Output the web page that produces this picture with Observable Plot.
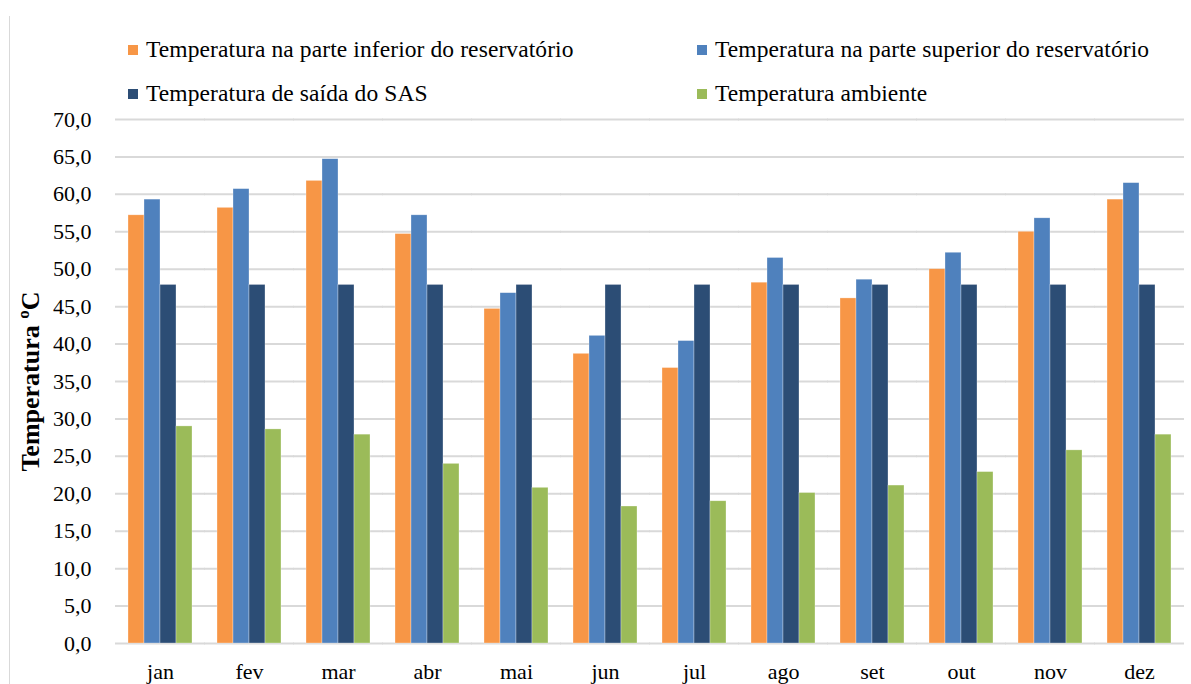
<!DOCTYPE html>
<html>
<head>
<meta charset="utf-8">
<script src="https://cdn.jsdelivr.net/npm/d3@7"></script>
<script src="https://cdn.jsdelivr.net/npm/@observablehq/plot@0.6"></script>
<style>
  html, body { margin: 0; padding: 0; background: #fff; }
  #wrap { position: relative; width: 1191px; height: 684px; font-family: "Liberation Serif", "Times New Roman", serif; color: #000; }
  #border { position: absolute; left: 9px; top: 16px; width: 1px; height: 668px; background: #d9d9d9; z-index: 2; }
  #legend { position: relative; height: 105px; }
  .item { position: absolute; display: flex; align-items: center; font-size: 23.5px; white-space: nowrap; letter-spacing: 0.1px; }
  .sw { width: 10px; height: 10px; margin-right: 8px; }
  #chart { position: absolute; left: 0; top: 105px; }
  #chart svg text { font-family: "Liberation Serif", "Times New Roman", serif !important; }
  #chart g[aria-label="y-axis tick label"] text { font-size: 22px !important; }
  #chart g[aria-label="fx-axis tick label"] text { font-size: 22px !important; }
</style>
</head>
<body>
<div id="wrap">
  <div id="border"></div>
  <div id="legend"></div>
  <div id="chart"></div>
</div>
<script>
const months = ["jan", "fev", "mar", "abr", "mai", "jun", "jul", "ago", "set", "out", "nov", "dez"];
const seriesNames = [
  "Temperatura na parte inferior do reservatório",
  "Temperatura na parte superior do reservatório",
  "Temperatura de saída do SAS",
  "Temperatura ambiente"
];
const seriesColors = ["#F79646", "#4F81BD", "#2C4D75", "#9BBB59"];
const inferior = [57.2, 58.2, 61.8, 54.7, 44.7, 38.7, 36.8, 48.2, 46.1, 50.0, 55.0, 59.3];
const superior = [59.3, 60.7, 64.7, 57.2, 46.8, 41.1, 40.4, 51.5, 48.6, 52.2, 56.8, 61.5];
const saida = [47.9, 47.9, 47.9, 47.9, 47.9, 47.9, 47.9, 47.9, 47.9, 47.9, 47.9, 47.9];
const ambiente = [29.0, 28.6, 27.9, 24.0, 20.8, 18.3, 19.0, 20.1, 21.1, 22.9, 25.8, 27.9];
const yTicks = d3.range(0, 70.1, 5);

const seriesValues = [inferior, superior, saida, ambiente];
const data = [];
months.forEach((m, i) => {
  seriesNames.forEach((s, j) => data.push({month: m, series: s, value: seriesValues[j][i]}));
});

// Legend
const legendPos = [[128, 51], [697, 51], [128, 95], [697, 95]];
const legend = document.getElementById("legend");
seriesNames.forEach((s, j) => {
  const it = document.createElement("div");
  it.className = "item";
  it.style.left = legendPos[j][0] + "px";
  it.style.top = (legendPos[j][1] - 15) + "px";
  it.innerHTML = `<span class="sw" style="background:${seriesColors[j]}"></span><span>${s}</span>`;
  legend.appendChild(it);
});

const fmt = d => d.toFixed(1).replace(".", ",");
const serif = "Liberation Serif, Times New Roman, serif";

const plot = Plot.plot({
  width: 1191,
  height: 579,
  marginLeft: 115,
  marginRight: 7,
  marginTop: 14,
  marginBottom: 41,
  style: {fontFamily: serif, fontSize: "22px", color: "#000", background: "transparent"},
  fx: {domain: months, paddingInner: 0.28, paddingOuter: 0.14, label: null},
  x: {domain: seriesNames, padding: 0, axis: null},
  y: {domain: [0, 70], label: null},
  color: {domain: seriesNames, range: seriesColors},
  marks: [
    Plot.ruleY(yTicks, {stroke: "#d9d9d9", strokeWidth: 2, insetLeft: -13, insetRight: -13}),
    Plot.barY(data, {fx: "month", x: "series", y: "value", fill: "series", stroke: "#ffffff", strokeWidth: 0.6, strokeOpacity: 0.5}),
    Plot.axisY({ticks: yTicks, tickFormat: fmt, tickSize: 0, tickPadding: 37, fontSize: 22, fontFamily: serif, label: null}),
    Plot.axisFx({anchor: "bottom", tickSize: 0, tickPadding: 20, fontSize: 22, fontFamily: serif, label: null}),
    Plot.text(["Temperatura ºC"], {frameAnchor: "left", textAnchor: "middle", dx: -98, rotate: -90, fontWeight: "bold", fontSize: 26, fontFamily: serif, facet: "super"})
  ]
});
document.getElementById("chart").appendChild(plot);
</script>
</body>
</html>
